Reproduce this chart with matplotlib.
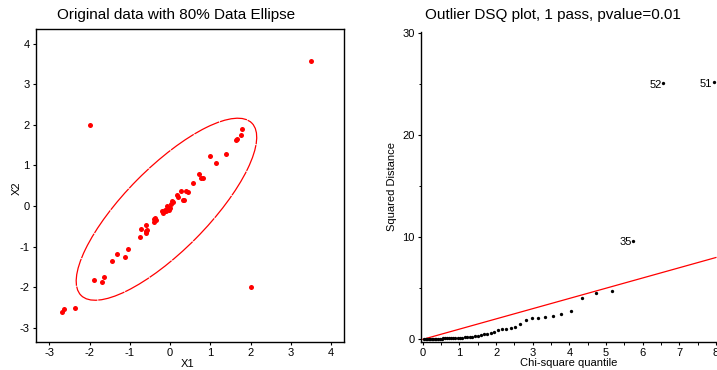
import matplotlib
matplotlib.use("Agg")
import matplotlib.pyplot as plt
from matplotlib.patches import Ellipse
from matplotlib.ticker import MultipleLocator

plt.rcParams['font.family'] = ['Liberation Sans', 'DejaVu Sans']
plt.rcParams['axes.unicode_minus'] = False

# Original data (X1, X2)
x1 = [3.50, -2.00, 2.00,
      1.79, 1.75, 1.63, 1.66, 1.38, 0.99, 1.13,
      0.72, 0.76, 0.81, 0.58, 0.27, 0.40, 0.44,
      0.17, 0.19, 0.32, 0.35, 0.05, 0.07, 0.02,
      -0.08, -0.12, -0.07, -0.02, 0.00, -0.10,
      -0.20, -0.18, -0.38, -0.39, -0.39, -0.36,
      -0.60, -0.57, -0.61, -0.61, -0.72, -0.75,
      -1.05, -1.13, -1.32, -1.43,
      -1.65, -1.70, -1.88,
      -2.35, -2.63, -2.69]
x2 = [3.57, 2.00, -2.00,
      1.89, 1.75, 1.63, 1.64, 1.29, 1.23, 1.06,
      0.79, 0.68, 0.68, 0.57, 0.36, 0.37, 0.34,
      0.26, 0.23, 0.15, 0.15, 0.13, 0.10, 0.05,
      0.00, -0.10, -0.08, -0.10, -0.06, -0.13,
      -0.12, -0.18, -0.29, -0.33, -0.39, -0.35,
      -0.48, -0.58, -0.62, -0.66, -0.57, -0.76,
      -1.06, -1.26, -1.18, -1.36,
      -1.74, -1.87, -1.83,
      -2.52, -2.54, -2.62]

# 80% data ellipse: centre, full axis lengths, angle
ell_center = (-0.09, -0.08)
ell_width = 6.0
ell_height = 2.05
ell_angle = 45

# DSQ plot: chi-square quantiles vs sorted squared distances
chi_q = [0.038, 0.077, 0.117, 0.157, 0.198, 0.240, 0.283, 0.327, 0.372, 0.418,
         0.465, 0.513, 0.563, 0.614, 0.665, 0.719, 0.774, 0.830, 0.888, 0.948,
         1.009, 1.073, 1.138, 1.206, 1.276, 1.349, 1.424, 1.503, 1.585, 1.670,
         1.759, 1.852, 1.949, 2.052, 2.160, 2.274, 2.395, 2.525, 2.663, 2.811,
         2.971, 3.145, 3.335, 3.546, 3.782, 4.049, 4.357, 4.722, 5.168, 5.743,
         6.554, 7.941]
dsq = [0.00, 0.01, 0.02, 0.02, 0.03, 0.03, 0.04, 0.05, 0.06, 0.06,
       0.07, 0.08, 0.09, 0.10, 0.11, 0.12, 0.13, 0.14, 0.15, 0.16,
       0.17, 0.18, 0.19, 0.21, 0.23, 0.27, 0.31, 0.35, 0.45, 0.48,
       0.51, 0.60, 0.74, 0.90, 1.00, 1.03, 1.12, 1.22, 1.49, 1.91,
       2.10, 2.10, 2.14, 2.27, 2.46, 2.73, 4.06, 4.55, 4.74, 9.61,
       25.05, 25.12]
outlier_ids = ["35", "52", "51"]
ref_line = [0, 8]

fig = plt.figure(figsize=(7.17, 3.70), dpi=100)

# ---- left: original data with ellipse
ax1 = fig.add_axes([0.0502, 0.0757, 0.4296, 0.846])
ax1.plot(x1, x2, 'o', color='red', markersize=3.6, markeredgewidth=0)
ax1.add_patch(Ellipse(ell_center, ell_width, ell_height, angle=ell_angle,
                      fill=False, edgecolor='red', linewidth=0.9,
                      linestyle=(0, (22, 0.7))))
ax1.set_xlim(-3.33, 4.32)
ax1.set_ylim(-3.35, 4.36)
ax1.set_xticks(range(-3, 5))
ax1.set_yticks(range(-3, 5))
ax1.tick_params(direction='out', length=2.5, width=0.8, labelsize=8, pad=2)
for s in ax1.spines.values():
    s.set_linewidth(1.0)

fig.text(176 / 717, 1 - 15 / 370, "Original data with 80% Data Ellipse",
         ha='center', va='center', fontsize=11)
fig.text(188 / 717, 1 - 364 / 370, "X1", ha='center', va='center', fontsize=8)
fig.text(16.5 / 717, 1 - 188 / 370, "X2", ha='center', va='center',
         fontsize=8, rotation=90)

# ---- right: DSQ plot
ax2 = fig.add_axes([421 / 717, 1 - 341.8 / 370, 296 / 717, (341.8 - 32) / 370])
ax2.plot(ref_line, ref_line, color='red', linewidth=0.9)
ax2.plot(chi_q, dsq, 'o', color='black', markersize=2.4, markeredgewidth=0)
for lab, xq, yq in zip(outlier_ids, chi_q[-3:], dsq[-3:]):
    ax2.annotate(lab, (xq, yq), xytext=(-1, -1), textcoords='offset points',
                 ha='right', va='center', fontsize=8)
ax2.set_xlim(-0.05, 8.03)
ax2.set_ylim(-0.24, 30.05)
ax2.xaxis.set_major_locator(MultipleLocator(1))
ax2.xaxis.set_minor_locator(MultipleLocator(0.5))
ax2.yaxis.set_major_locator(MultipleLocator(10))
ax2.yaxis.set_minor_locator(MultipleLocator(5))
ax2.tick_params(which='major', direction='out', length=2.5, width=0.8,
                labelsize=8, pad=2)
ax2.tick_params(which='minor', direction='out', length=1.8, width=0.7)
ax2.spines['top'].set_visible(False)
ax2.spines['right'].set_visible(False)
for s in ['left', 'bottom']:
    ax2.spines[s].set_linewidth(1.0)

fig.text(553 / 717, 1 - 15 / 370, "Outlier DSQ plot, 1 pass, pvalue=0.01",
         ha='center', va='center', fontsize=11)
fig.text(569 / 717, 1 - 363 / 370, "Chi-square quantile", ha='center',
         va='center', fontsize=8)
fig.text(392 / 717, 1 - 187 / 370, "Squared Distance", ha='center',
         va='center', fontsize=8, rotation=90)

fig.savefig("out.png", dpi=100)
